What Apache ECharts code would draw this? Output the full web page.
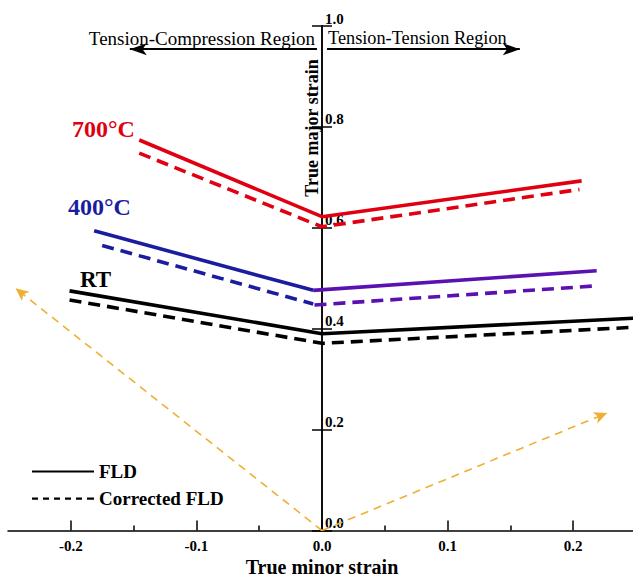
<!DOCTYPE html>
<html>
<head>
<meta charset="utf-8">
<script src="https://cdn.jsdelivr.net/npm/echarts@6/dist/echarts.min.js"></script>
<style>html,body{margin:0;padding:0;background:#fff;}#c{width:633px;height:581px;}</style>
</head>
<body>
<div id="c"></div>
<script>
// ---- data ----
var xTicks = [-0.2, -0.1, 0, 0.1, 0.2];
var xMinorTicks = [-0.15, -0.05, 0.05, 0.15];
var yTicks = [0, 0.2, 0.4, 0.6, 0.8, 1.0];
var rtFLD = [[-0.201, 0.475], [0, 0.390], [0.25, 0.421]];
var rtCorrected = [[-0.201, 0.457], [0, 0.371], [0.25, 0.403]];
var t700FLD = [[-0.1455, 0.774], [0, 0.622], [0.2067, 0.693]];
var t700Corrected = [[-0.1455, 0.748], [0, 0.602], [0.205, 0.676]];
var t400FLDLeft = [[-0.1814, 0.594], [-0.007, 0.476]];
var t400FLDRight = [[-0.007, 0.476], [0.2187, 0.515]];
var t400CorrLeft = [[-0.175, 0.565], [-0.007, 0.449]];
var t400CorrRight = [[-0.006, 0.447], [0.2187, 0.485]];
var strainPathTC = [[0, 0], [-0.244, 0.48]];
var strainPathTT = [[0, 0], [0.227, 0.233]];
var regionArrowTC = [[-0.004, 0.954], [-0.153, 0.954]];
var regionArrowTT = [[0.004, 0.954], [0.1575, 0.954]];

var SERIF = "'Liberation Serif','Times New Roman',serif";
var RED = '#e00012', BLUE = '#1c1c9e', PURPLE = '#5b10b2', BLACK = '#000', YELLOW = '#eeb032';
var DASH = [12, 7];
var GRID_LEFT = 8, GRID_RIGHT = -3, CHART_W = 633;
var Y_OFFSET = -((CHART_W - GRID_LEFT - GRID_RIGHT) / 2);

function lineSeries(name, data, color, dashed) {
  return {
    name: name, type: 'line', data: data, symbol: 'none', silent: true,
    xAxisIndex: 0, yAxisIndex: 0, z: 3,
    lineStyle: { color: color, width: 3.6, type: dashed ? DASH : 'solid' },
    itemStyle: { color: color }
  };
}

var chart = echarts.init(document.getElementById('c'), null, { renderer: 'svg' });
var option = {
  animation: false,
  backgroundColor: '#fff',
  grid: { left: GRID_LEFT, right: GRID_RIGHT, top: 26, bottom: 50.5, containLabel: false, outerBoundsMode: 'none' },
  xAxis: [
    {
      type: 'value', min: -0.25, max: 0.25, position: 'bottom',
      axisLine: { show: true, onZero: false, lineStyle: { color: BLACK, width: 1.5 } },
      axisTick: { show: true, inside: true, length: 10, customValues: xTicks, lineStyle: { color: BLACK, width: 1.5 } },
      axisLabel: { show: true, customValues: xTicks, margin: 8, color: BLACK, fontFamily: SERIF, fontWeight: 'bold', fontSize: 15,
        formatter: function (v) { return (Math.abs(v) < 1e-9 ? 0 : v).toFixed(1); } },
      splitLine: { show: false },
      name: 'True minor strain', nameLocation: 'middle', nameGap: 26, nameMoveOverlap: false,
      nameTextStyle: { color: BLACK, fontFamily: SERIF, fontWeight: 'bold', fontSize: 20 }
    },
    {
      type: 'value', min: -0.25, max: 0.25, position: 'bottom',
      axisLine: { show: false, onZero: false },
      axisTick: { show: true, inside: true, length: 5, customValues: xMinorTicks, lineStyle: { color: BLACK, width: 1.5 } },
      axisLabel: { show: false },
      splitLine: { show: false }
    }
  ],
  yAxis: [
    {
      type: 'value', min: 0, max: 1, interval: 0.2, position: 'left', offset: Y_OFFSET,
      axisLine: { show: true, onZero: false, lineStyle: { color: BLACK, width: 1.5 } },
      axisTick: { show: true, inside: false, length: 10, lineStyle: { color: BLACK, width: 1.5 } },
      axisLabel: { show: true, inside: true, margin: 3, verticalAlign: 'bottom', align: 'left', color: BLACK,
        fontFamily: SERIF, fontWeight: 'bold', fontSize: 15,
        formatter: function (v) { return v.toFixed(1); } },
      splitLine: { show: false }
    },
    {
      type: 'value', min: 0, max: 1, interval: 0.2, position: 'left', offset: Y_OFFSET,
      axisLine: { show: true, onZero: false, lineStyle: { color: BLACK, width: 1.5 } },
      axisTick: { show: true, inside: true, length: 10, lineStyle: { color: BLACK, width: 1.5 } },
      axisLabel: { show: false },
      splitLine: { show: false }
    }
  ],
  legend: {
    orient: 'vertical', left: 27, top: 457, itemWidth: 62, itemHeight: 14, itemGap: 8.2,
    textStyle: { color: BLACK, fontFamily: SERIF, fontWeight: 'bold', fontSize: 19, padding: [0, 0, 0, 0] },
    data: [
      { name: 'FLD', icon: 'path://M0,6L62,6L62,8L0,8Z', itemStyle: { color: BLACK } },
      { name: 'Corrected FLD', icon: 'path://M0,6h6v2.2h-6zM11,6h6v2.2h-6zM22,6h6v2.2h-6zM33,6h6v2.2h-6zM44,6h6v2.2h-6zM55,6h7v2.2h-7z', itemStyle: { color: BLACK } }
    ]
  },
  series: [
    lineSeries('FLD', rtFLD, BLACK, false),
    lineSeries('Corrected FLD', rtCorrected, BLACK, true),
    lineSeries('700 FLD', t700FLD, RED, false),
    lineSeries('700 Corrected', t700Corrected, RED, true),
    lineSeries('400 FLD L', t400FLDLeft, BLUE, false),
    lineSeries('400 FLD R', t400FLDRight, PURPLE, false),
    lineSeries('400 Corr L', t400CorrLeft, BLUE, true),
    lineSeries('400 Corr R', t400CorrRight, PURPLE, true),
    {
      name: 'annotations', type: 'line', data: [], silent: true, xAxisIndex: 0, yAxisIndex: 0,
      markLine: {
        silent: true, animation: false, symbol: ['none', 'arrow'], label: { show: false },
        data: [
          [{ coord: strainPathTC[0], symbolSize: 0, lineStyle: { color: YELLOW, width: 1.6, type: [8, 6] } },
           { coord: strainPathTC[1], symbolSize: [9, 13] }],
          [{ coord: strainPathTT[0], symbolSize: 0, lineStyle: { color: YELLOW, width: 1.6, type: [8, 6] } },
           { coord: strainPathTT[1], symbolSize: [9, 13] }],
          [{ coord: regionArrowTC[0], symbolSize: 0, lineStyle: { color: BLACK, width: 2, type: 'solid' } },
           { coord: regionArrowTC[1], symbolSize: [9, 17] }],
          [{ coord: regionArrowTT[0], symbolSize: 0, lineStyle: { color: BLACK, width: 2, type: 'solid' } },
           { coord: regionArrowTT[1], symbolSize: [9, 17] }]
        ]
      }
    }
  ],
  graphic: [
    { type: 'text', left: 72, top: 117, style: { text: '700°C', fill: RED, font: 'bold 24px ' + SERIF } },
    { type: 'text', left: 68, top: 195, style: { text: '400°C', fill: BLUE, font: 'bold 24px ' + SERIF } },
    { type: 'text', left: 80, top: 268, style: { text: 'RT', fill: BLACK, font: 'bold 23px ' + SERIF } },
    { type: 'text', x: 315, y: 38, style: { text: 'Tension-Compression Region', fill: BLACK, font: '19px ' + SERIF, align: 'right', verticalAlign: 'middle' } },
    { type: 'text', x: 328, y: 38, style: { text: 'Tension-Tension Region', fill: BLACK, font: '18.3px ' + SERIF, align: 'left', verticalAlign: 'middle' } },
    { type: 'text', x: 312, y: 128, rotation: Math.PI / 2, style: { text: 'True major strain', fill: BLACK, font: 'bold 18px ' + SERIF, align: 'center', verticalAlign: 'middle' } }
  ]
};
chart.setOption(option);
</script>
</body>
</html>
